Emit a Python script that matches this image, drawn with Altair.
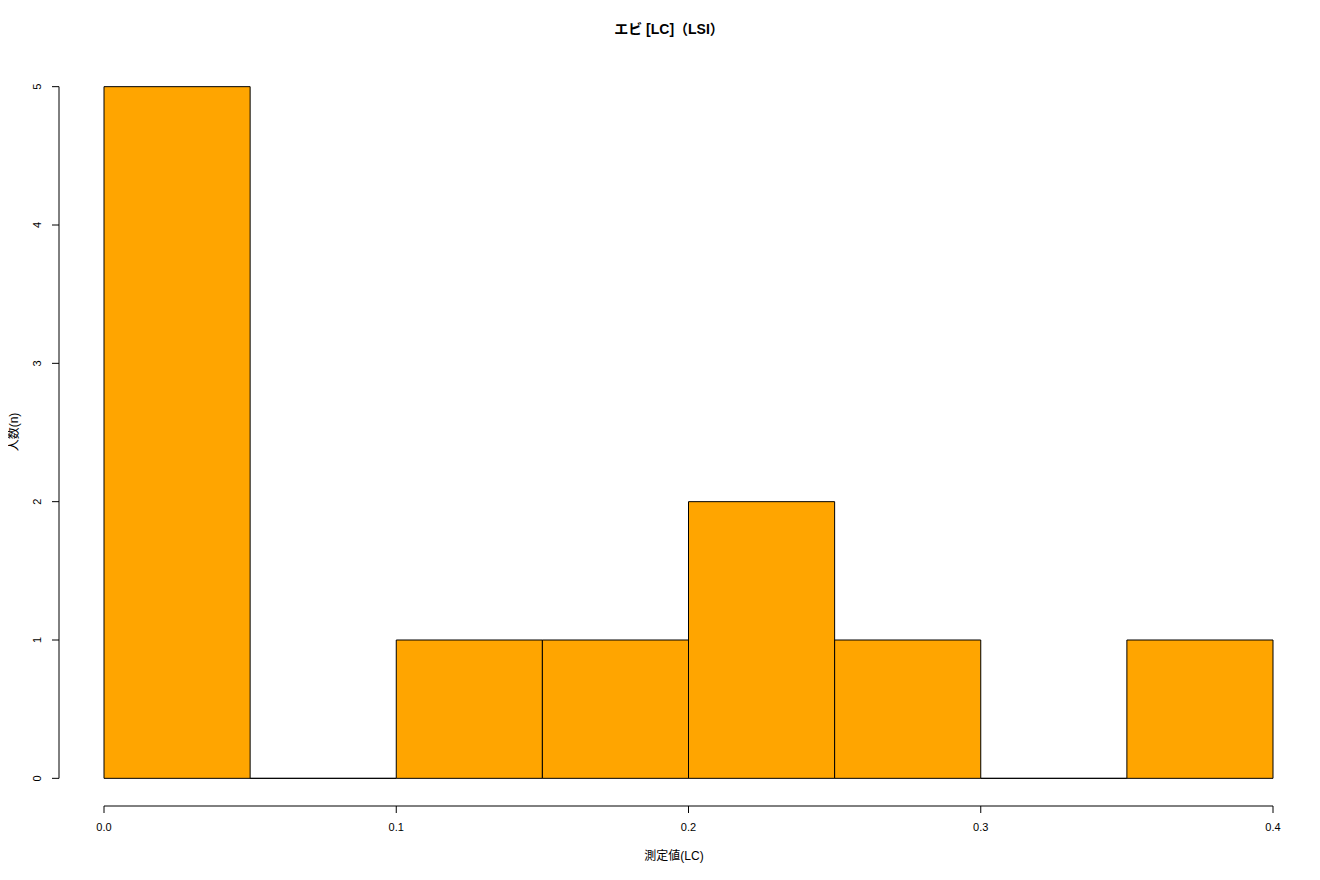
import altair as alt
import pandas as pd

# Data
bin_start = [0.00, 0.05, 0.10, 0.15, 0.20, 0.25, 0.30, 0.35]
bin_end = [0.05, 0.10, 0.15, 0.20, 0.25, 0.30, 0.35, 0.40]
counts = [5, 0, 1, 1, 2, 1, 0, 1]
x_ticks = [0.0, 0.1, 0.2, 0.3, 0.4]
x_tick_labels = ["0.0", "0.1", "0.2", "0.3", "0.4"]
y_ticks = [0, 1, 2, 3, 4, 5]

title_text = "エビ [LC]（LSI）"
x_title = "測定値(LC)"
y_title = "人数(n)"

W, H = 1251, 747
FONT = "Liberation Sans, Arial, Noto Sans CJK JP"

bars_df = pd.DataFrame({"x": bin_start, "x2": bin_end, "n": counts})
xt_df = pd.DataFrame({"v": x_ticks, "lab": x_tick_labels})
yt_df = pd.DataFrame({"v": y_ticks, "lab": [str(v) for v in y_ticks]})

xs = alt.Scale(domain=[-0.0154, 0.41266], nice=False, zero=False)
ys = alt.Scale(domain=[-0.2, 5.2], nice=False, zero=False)

bars = alt.Chart(bars_df).mark_rect(fill="#FFA500", stroke="black", strokeWidth=1).encode(
    x=alt.X("x:Q", scale=xs, axis=None),
    x2="x2:Q",
    y=alt.Y("n:Q", scale=ys, axis=None),
    y2=alt.datum(0),
)

x_line = alt.Chart(pd.DataFrame({"a": [x_ticks[0]], "b": [x_ticks[-1]]})).mark_rule(color="black", strokeWidth=1).encode(
    x=alt.X("a:Q", scale=xs, axis=None), x2="b:Q", y=alt.value(H)
)
x_tick_marks = alt.Chart(xt_df).mark_rule(color="black", strokeWidth=1).encode(
    x=alt.X("v:Q", scale=xs, axis=None), y=alt.value(H), y2=alt.value(H + 7)
)
x_tick_text = alt.Chart(xt_df).mark_text(font=FONT, fontSize=11, baseline="middle", align="center").encode(
    x=alt.X("v:Q", scale=xs, axis=None), y=alt.value(769), text="lab:N"
)

y_line = alt.Chart(pd.DataFrame({"a": [y_ticks[0]], "b": [y_ticks[-1]]})).mark_rule(color="black", strokeWidth=1).encode(
    y=alt.Y("a:Q", scale=ys, axis=None), y2="b:Q", x=alt.value(0)
)
y_tick_marks = alt.Chart(yt_df).mark_rule(color="black", strokeWidth=1).encode(
    y=alt.Y("v:Q", scale=ys, axis=None), x=alt.value(-7), x2=alt.value(0)
)
y_tick_text = alt.Chart(yt_df).mark_text(font=FONT, fontSize=11, angle=270, baseline="middle", align="center").encode(
    y=alt.Y("v:Q", scale=ys, axis=None), x=alt.value(-21), text="lab:N"
)

title = alt.Chart(pd.DataFrame({"t": [title_text]})).mark_text(
    font=FONT, fontSize=14, fontWeight="bold", baseline="middle", align="center"
).encode(x=alt.value(610), y=alt.value(-29), text="t:N")

xtitle = alt.Chart(pd.DataFrame({"t": [x_title]})).mark_text(
    font=FONT, fontSize=12, baseline="middle", align="center"
).encode(x=alt.value(615), y=alt.value(797), text="t:N")

ytitle = alt.Chart(pd.DataFrame({"t": [y_title]})).mark_text(
    font=FONT, fontSize=12, angle=270, baseline="middle", align="center"
).encode(x=alt.value(-45), y=alt.value(373), text="t:N")

chart = alt.layer(
    bars, x_line, x_tick_marks, x_tick_text, y_line, y_tick_marks, y_tick_text, title, xtitle, ytitle
).properties(
    width=W, height=H,
    autosize=alt.AutoSizeParams(type="none"),
    padding={"left": 51, "top": 51, "right": 0, "bottom": 64},
).configure_view(stroke=None)

chart.save("out.html", embed_options={"renderer": "svg", "actions": False})
